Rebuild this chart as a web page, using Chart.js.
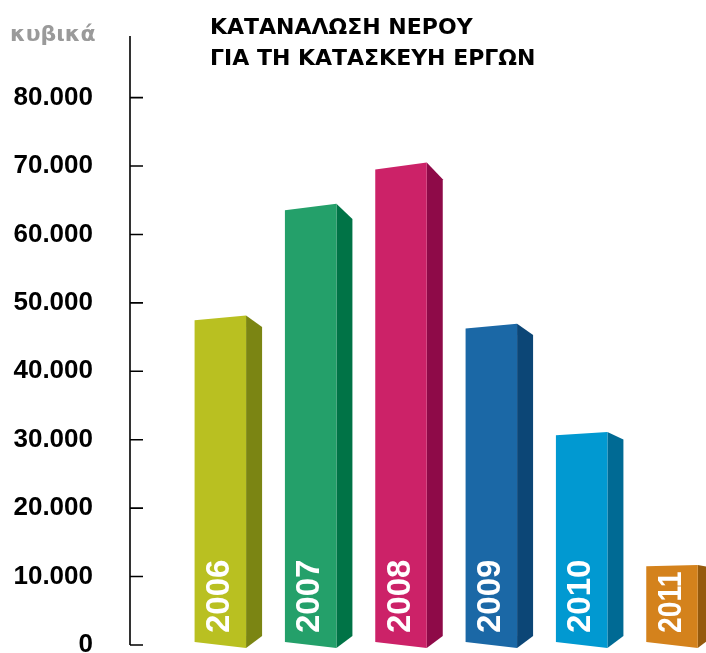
<!DOCTYPE html>
<html>
<head>
<meta charset="utf-8">
<script src="https://cdn.jsdelivr.net/npm/chart.js@4/dist/chart.umd.min.js"></script>
<style>
    html, body { margin: 0; padding: 0; background: #fff; }
</style>
</head>
<body>
<canvas id="BarChart" width="706" height="653"></canvas>
<script>
// dados (κυβικά νερού ανά έτος)
const years = ['2006', '2007', '2008', '2009', '2010', '2011'];
const volumes = [47800, 64000, 70000, 46600, 30900, 11600];
const yTicks = [0, 10000, 20000, 30000, 40000, 50000, 60000, 70000, 80000];
const titleLines = ['ΚΑΤΑΝΑΛΩΣΗ ΝΕΡΟΥ', 'ΓΙΑ ΤΗ ΚΑΤΑΣΚΕΥΗ ΕΡΓΩΝ'];
const unitLabel = 'κυβικά';

const frontColors = ['#b9c021', '#24a06a', '#cc2268', '#1b68a6', '#0199d1', '#d4821c'];
const sideColors = ['#7b8513', '#007346', '#8e0a48', '#0c4676', '#006a94', '#955a0d'];

function fmt(v) {
    return String(v).replace(/\B(?=(\d{3})+(?!\d))/g, '.');
}

function poly(ctx, pts, color) {
    ctx.fillStyle = color;
    ctx.beginPath();
    ctx.moveTo(pts[0][0], pts[0][1]);
    for (let i = 1; i < pts.length; i++) ctx.lineTo(pts[i][0], pts[i][1]);
    ctx.closePath();
    ctx.fill();
}

// barras "3D": face frontal + lateral a partir dos elementos do Chart.js
const bars3d = {
    id: 'bars3d',
    beforeDatasetsDraw(chart) {
        const ctx = chart.ctx;
        const meta = chart.getDatasetMeta(0);
        const ds = chart.data.datasets[0];
        meta.data.forEach((bar, i) => {
            if (ds.data[i] == null) return;
            const k = i - 1;
            const L = bar.x - bar.width / 2;
            const R = bar.x + bar.width / 2;
            const h = bar.base - bar.y;
            const tilt = h * 0.015;
            const drop = h * 0.035;
            const depth = 16;
            const topL = bar.y + tilt / 2, topR = bar.y - tilt / 2;
            const botL = bar.base - 3, botR = bar.base + 3;

            poly(ctx, [[R, topR], [R + depth, topR + drop], [R + depth, botR - 12], [R, botR]], sideColors[k]);
            poly(ctx, [[L, topL], [R, topR], [R, botR], [L, botL]], frontColors[k]);

            // ano na vertical, dentro da barra
            ctx.save();
            ctx.fillStyle = '#fff';
            ctx.font = 'bold 33px "Liberation Sans", Arial, sans-serif';
            ctx.textAlign = 'left';
            ctx.textBaseline = 'alphabetic';
            const label = chart.data.labels[i];
            const w = ctx.measureText(label).width;
            const room = h - 18;
            ctx.translate(bar.x - 3 + 11.8, bar.base - 12);
            ctx.rotate(-Math.PI / 2);
            if (w > room) ctx.scale(room / w, 1);
            ctx.fillText(label, 0, 0);
            ctx.restore();
        });
        return false;
    },
    afterDraw(chart) {
        const ctx = chart.ctx;
        const area = chart.chartArea;
        const y = chart.scales.y;

        ctx.save();
        ctx.strokeStyle = '#000';
        ctx.lineWidth = 1.6;
        ctx.beginPath();
        ctx.moveTo(area.left, area.top);
        ctx.lineTo(area.left, area.bottom);
        y.ticks.forEach(t => {
            const py = y.getPixelForValue(t.value);
            ctx.moveTo(area.left, py);
            ctx.lineTo(area.left + 13, py);
        });
        ctx.stroke();

        ctx.fillStyle = '#000';
        ctx.font = 'bold 22px "DejaVu Sans", sans-serif';
        ctx.textBaseline = 'middle';
        ctx.textAlign = 'left';
        ctx.fillText(titleLines[0], 210, 28);
        ctx.fillText(titleLines[1], 210, 59);

        ctx.fillStyle = '#9a9a9a';
        ctx.font = 'bold 22px "DejaVu Sans", sans-serif';
        ctx.fillText(unitLabel, 10, 35);
        ctx.restore();
    }
};

new Chart(document.getElementById('BarChart'), {
    type: 'bar',
    data: {
        labels: [''].concat(years),
        datasets: [{
            data: [null].concat(volumes),
            backgroundColor: [null].concat(frontColors),
            barThickness: 51.5,
            clip: false
        }]
    },
    options: {
        responsive: false,
        animation: false,
        devicePixelRatio: 1,
        layout: {
            padding: { left: 0, right: 34, top: 36, bottom: 8 }
        },
        plugins: {
            legend: { display: false },
            tooltip: { enabled: false }
        },
        scales: {
            x: {
                type: 'category',
                display: false,
                offset: false
            },
            y: {
                min: 0,
                max: 89000,
                afterFit(scale) {
                    scale.width = 130;
                    scale.paddingTop = 0;
                    scale.paddingBottom = 0;
                },
                afterBuildTicks(scale) {
                    scale.ticks = yTicks.map(v => ({ value: v }));
                },
                border: { display: false },
                grid: { display: false, drawTicks: false },
                ticks: {
                    padding: 37,
                    color: '#000',
                    font: { family: 'Liberation Sans', weight: 'bold', size: 26 },
                    callback: v => fmt(v)
                }
            }
        }
    },
    plugins: [bars3d]
});
</script>
</body>
</html>
